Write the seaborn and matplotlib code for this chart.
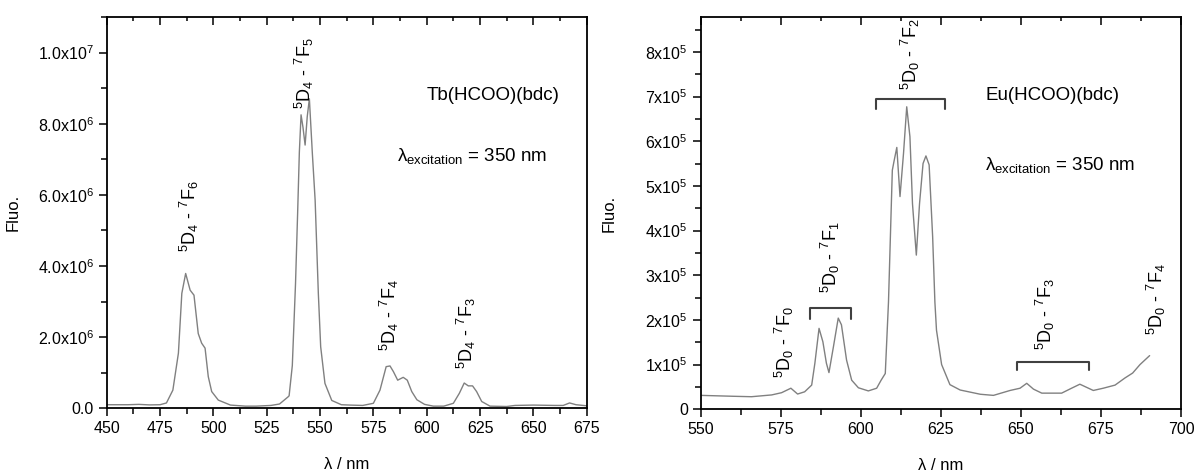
import numpy as np
import pandas as pd
import seaborn as sns
import matplotlib
matplotlib.use("Agg")
import matplotlib.pyplot as plt
from matplotlib.ticker import MultipleLocator, FixedLocator, FixedFormatter

# Tb(HCOO)(bdc) emission spectrum
tb_nm = [450, 460, 465, 470, 475, 478, 481, 483.6, 485.2, 487.0, 489.1, 490.9,
         492.9, 494.5, 496.1, 497.6, 499.2, 502.3, 508, 515, 520, 527, 531, 535,
         535.5, 537, 538.5, 539.5, 540.3, 541.1, 542, 543, 544, 545, 546.4, 547.7,
         549.2, 550.3, 552.3, 555.5, 560, 564, 570, 575, 578.1, 581, 582.8, 584.4,
         586.4, 589, 590.9, 593, 595.4, 599, 603.1, 608, 612.5, 615.3, 617.6,
         619.5, 621.5, 623.4, 625.8, 629.7, 637.5, 641.4, 650, 660, 664, 667, 670, 675]
tb_fluo = [1.0e5, 1.0e5, 1.1e5, 0.95e5, 1.0e5, 1.5e5, 5.1e5, 1.55e6, 3.23e6, 3.79e6,
           3.32e6, 3.18e6, 2.1e6, 1.83e6, 1.69e6, 8.9e5, 4.7e5, 2.3e5, 9e4, 6e4, 6e4,
           8e4, 1.2e5, 3.2e5, 3.5e5, 1.2e6, 3.5e6, 5.5e6, 7.2e6, 8.25e6, 7.9e6, 7.4e6,
           8.2e6, 8.7e6, 7.16e6, 5.85e6, 3.23e6, 1.73e6, 7e5, 2.2e5, 1e5, 9e4, 8e4,
           1.4e5, 5.1e5, 1.17e6, 1.19e6, 1.03e6, 7.9e5, 8.7e5, 7.9e5, 4.7e5, 2.4e5,
           1.1e5, 6e4, 6e4, 1.4e5, 4.2e5, 7.1e5, 6.3e5, 6.3e5, 4.7e5, 1.9e5, 6e4, 5e4,
           8e4, 9e4, 8e4, 8e4, 1.5e5, 1.0e5, 7e4]

# Eu(HCOO)(bdc) emission spectrum
eu_nm = [550, 555, 560, 565.8, 572.1, 575.2, 578.1, 580.2, 582.4, 584.6, 585.6,
         586.9, 588.1, 589.2, 590.0, 591.4, 592.9, 593.9, 595.5, 597.1, 599.2, 602.3,
         604.9, 606.3, 607.6, 608.6, 609.8, 610.3, 611.2, 612.2, 613.3, 614.3, 615.3,
         616.1, 617.3, 618.3, 619.4, 620.3, 621.3, 622.4, 623.1, 623.6, 625.2, 627.8,
         631, 637.3, 641.4, 646.6, 649.7, 651.8, 653.9, 656.5, 662.7, 665.8, 668.4,
         670.5, 672.6, 675.7, 679.4, 682.5, 684.9, 687.2, 690.2]
eu_fluo = [3.1e4, 3.0e4, 2.9e4, 2.8e4, 3.2e4, 3.7e4, 4.7e4, 3.4e4, 3.9e4, 5.4e4,
           1.03e5, 1.81e5, 1.51e5, 1.03e5, 8.2e4, 1.4e5, 2.04e5, 1.89e5, 1.1e5, 6.5e4,
           4.8e4, 4.1e4, 4.7e4, 6.5e4, 8.0e4, 2.4e5, 5.35e5, 5.54e5, 5.86e5, 4.76e5,
           5.73e5, 6.77e5, 6.1e5, 4.6e5, 3.45e5, 4.6e5, 5.5e5, 5.67e5, 5.47e5, 3.86e5,
           2.4e5, 1.77e5, 1.0e5, 5.5e4, 4.3e4, 3.35e4, 3.1e4, 4.2e4, 4.7e4, 5.8e4,
           4.5e4, 3.6e4, 3.6e4, 4.7e4, 5.6e4, 4.9e4, 4.2e4, 4.7e4, 5.4e4, 7.0e4,
           8.1e4, 1.0e5, 1.2e5]

tb_yticks = [0, 2e6, 4e6, 6e6, 8e6, 1e7]
tb_yticklabels = ['0.0', '2.0x10$^6$', '4.0x10$^6$', '6.0x10$^6$', '8.0x10$^6$', '1.0x10$^7$']
eu_yticks = [0, 1e5, 2e5, 3e5, 4e5, 5e5, 6e5, 7e5, 8e5]
eu_yticklabels = ['0'] + ['%dx10$^5$' % i for i in range(1, 9)]

# transition labels: text, x (nm), y (bottom of label)
tb_labels = [(r'$^5$D$_4$ - $^7$F$_6$', 489, 4.4e6),
             (r'$^5$D$_4$ - $^7$F$_5$', 542.5, 8.4e6),
             (r'$^5$D$_4$ - $^7$F$_4$', 582.5, 1.6e6),
             (r'$^5$D$_4$ - $^7$F$_3$', 618.5, 1.1e6)]
eu_labels = [(r'$^5$D$_0$ - $^7$F$_0$', 576.2, 7e4),
             (r'$^5$D$_0$ - $^7$F$_1$', 590.6, 2.6e5),
             (r'$^5$D$_0$ - $^7$F$_2$', 615.5, 7.15e5),
             (r'$^5$D$_0$ - $^7$F$_3$', 657.8, 1.33e5),
             (r'$^5$D$_0$ - $^7$F$_4$', 692.3, 1.66e5)]
# brackets: start nm, end nm, top y, tick bottom y
eu_brackets = [(584.1, 596.8, 2.27e5, 2.01e5),
               (604.7, 626.3, 6.94e5, 6.73e5),
               (648.7, 671.3, 1.05e5, 0.88e5)]


def style_axes(ax, xlim, ylim, xmaj, ymin_step, yticks, yticklabels):
    ax.set_xlim(*xlim)
    ax.set_ylim(*ylim)
    ax.xaxis.set_major_locator(MultipleLocator(xmaj))
    ax.xaxis.set_minor_locator(MultipleLocator(xmaj / 2))
    ax.yaxis.set_major_locator(FixedLocator(yticks))
    ax.yaxis.set_major_formatter(FixedFormatter(yticklabels))
    ax.yaxis.set_minor_locator(MultipleLocator(ymin_step))
    ax.tick_params(which='both', direction='out', bottom=True, left=True,
                   top=False, right=False, labelsize=11.5, width=1.1,
                   color='black', labelcolor='black')
    ax.tick_params(which='major', length=6)
    ax.tick_params(which='minor', length=4)
    for s in ax.spines.values():
        s.set_visible(True)
        s.set_color('black')
        s.set_linewidth(1.3)
    # mirrored ticks on top, pointing inwards
    top = ax.twiny()
    top.set_xlim(*xlim)
    top.xaxis.set_major_locator(MultipleLocator(xmaj))
    top.xaxis.set_minor_locator(MultipleLocator(xmaj / 2))
    top.tick_params(axis='x', which='both', direction='in', top=True, bottom=False,
                    labeltop=False, labelbottom=False, width=1.1, color='black')
    top.tick_params(axis='x', which='major', length=6)
    top.tick_params(axis='x', which='minor', length=3)
    top.yaxis.set_visible(False)
    for s in top.spines.values():
        s.set_visible(False)
    ax.set_xlabel('λ / nm', fontsize=12, color='black')
    ax.set_ylabel('Fluo.', fontsize=12, color='black')
    ax.xaxis.set_label_coords(0.5, -0.125)


def main() -> None:
    sns.set_theme()
    sns.set_style("white")
    plt.rcParams['font.family'] = ['Liberation Sans', 'DejaVu Sans']
    plt.rcParams['text.color'] = 'black'
    plt.rcParams['mathtext.fontset'] = 'custom'
    plt.rcParams['mathtext.rm'] = 'Liberation Sans'
    plt.rcParams['mathtext.it'] = 'Liberation Sans:italic'
    plt.rcParams['mathtext.default'] = 'regular'

    fig = plt.figure(figsize=(11.98, 4.72), dpi=100)
    ax1 = fig.add_axes([0.0891, 0.135, 0.4006, 0.829])
    ax2 = fig.add_axes([0.5851, 0.133, 0.4007, 0.831])

    tb = pd.DataFrame({'nm': tb_nm, 'fluo': tb_fluo})
    eu = pd.DataFrame({'nm': eu_nm, 'fluo': eu_fluo})
    sns.lineplot(data=tb, x='nm', y='fluo', ax=ax1, color='#808080', lw=1.0)
    sns.lineplot(data=eu, x='nm', y='fluo', ax=ax2, color='#808080', lw=1.0)

    for txt, x, y in tb_labels:
        ax1.text(x, y, txt, rotation=90, ha='center', va='bottom', fontsize=13)
    for txt, x, y in eu_labels:
        ax2.text(x, y, txt, rotation=90, ha='center', va='bottom', fontsize=13)
    for x0, x1, ytop, ybot in eu_brackets:
        ax2.plot([x0, x0, x1, x1], [ybot, ytop, ytop, ybot], color='#404040', lw=1.5)

    ax1.text(600.2, 8.8e6, 'Tb(HCOO)(bdc)', fontsize=13.5, va='center', ha='left')
    ax1.text(586, 7.1e6, r'$\lambda_{excitation}$ = 350 nm', fontsize=13.5, va='center', ha='left')
    ax2.text(638.8, 7.03e5, 'Eu(HCOO)(bdc)', fontsize=13.5, va='center', ha='left')
    ax2.text(638.8, 5.47e5, r'$\lambda_{excitation}$ = 350 nm', fontsize=13.5, va='center', ha='left')

    style_axes(ax1, (450, 675), (0, 1.1e7), 25, 1e6, tb_yticks, tb_yticklabels)
    style_axes(ax2, (550, 700), (0, 8.78e5), 25, 5e4, eu_yticks, eu_yticklabels)
    ax1.yaxis.set_label_coords(-0.18, 0.5)
    ax2.yaxis.set_label_coords(-0.175, 0.5)

    plt.savefig('out.png', dpi=100)


main()
